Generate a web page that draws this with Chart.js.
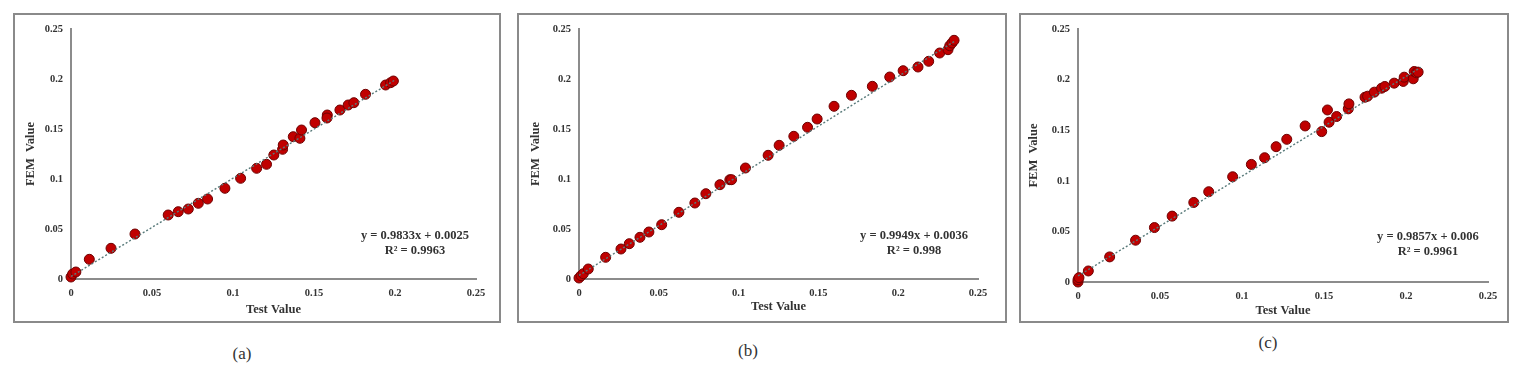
<!DOCTYPE html>
<html><head><meta charset="utf-8">
<script src="https://cdn.jsdelivr.net/npm/chart.js@4.4.1/dist/chart.umd.min.js"></script>
<style>
html,body{margin:0;padding:0;background:#fff;width:1518px;height:375px;overflow:hidden;}
.panel{position:absolute;}
.panel canvas{position:absolute;left:0;top:0;}
.frame{position:absolute;left:0;top:0;right:0;bottom:0;border:2px solid #8a8a8a;box-sizing:border-box;pointer-events:none;}
.cap{position:absolute;font-family:"Liberation Serif",serif;font-size:17px;color:#333;transform:translate(-50%,-50%);white-space:nowrap;}
</style></head><body>
<div class="panel" id="pa" style="left:13px;top:13px;width:488px;height:310px;"><canvas id="ca" width="488" height="310"></canvas><div class="frame"></div></div>
<div class="panel" id="pb" style="left:517px;top:13px;width:490px;height:310px;"><canvas id="cb" width="490" height="310"></canvas><div class="frame"></div></div>
<div class="panel" id="pc" style="left:1019px;top:13px;width:490px;height:310px;"><canvas id="cc" width="490" height="310"></canvas><div class="frame"></div></div>
<div class="cap" style="left:242px;top:354px;">(a)</div>
<div class="cap" style="left:748px;top:351px;">(b)</div>
<div class="cap" style="left:1268px;top:343px;">(c)</div>
<script>
// ---- data ----
const tickLabels = ['0','0.05','0.1','0.15','0.2','0.25'];
const tickValues = [0,0.05,0.1,0.15,0.2,0.25];

const testA = [0,0.001,0.003,0.0113,0.0247,0.0395,0.060,0.0662,0.0724,0.0786,0.0843,0.095,0.1047,0.1146,0.1207,0.1252,0.1306,0.131,0.1372,0.1413,0.1423,0.1506,0.1582,0.158,0.166,0.1711,0.1746,0.1818,0.1942,0.1973,0.199];
const femA  = [0.002,0.005,0.007,0.0197,0.0307,0.045,0.064,0.0673,0.070,0.0757,0.080,0.0907,0.1007,0.1107,0.1147,0.124,0.1297,0.134,0.1423,0.1407,0.149,0.1563,0.164,0.161,0.169,0.174,0.1763,0.1847,0.194,0.1963,0.198];
const trendXA = [0,0.2];
const trendYA = [0.0025,0.199];
const eqA = ['y = 0.9833x + 0.0025','R² = 0.9963'];

const testB = [0,0.0013,0.0027,0.0058,0.0167,0.0263,0.0315,0.0382,0.0438,0.0518,0.0626,0.0726,0.0795,0.0883,0.0945,0.0956,0.1043,0.1185,0.1254,0.1346,0.1432,0.1492,0.1598,0.1707,0.1838,0.1947,0.2031,0.2124,0.2191,0.226,0.2312,0.2323,0.2337,0.235];
const femB  = [0.001,0.0033,0.0053,0.010,0.0217,0.030,0.0353,0.0417,0.047,0.0543,0.0667,0.076,0.0853,0.0943,0.0993,0.0993,0.111,0.1237,0.1337,0.1427,0.1517,0.160,0.1727,0.1837,0.1927,0.202,0.2083,0.212,0.2177,0.226,0.2293,0.2333,0.236,0.2387];
const trendXB = [0,0.236];
const trendYB = [0.0036,0.2384];
const eqB = ['y = 0.9949x + 0.0036','R² = 0.998'];

const testC = [0,0,0.0006,0.0063,0.0193,0.0351,0.0466,0.0574,0.0706,0.0797,0.0943,0.1057,0.1138,0.1208,0.1273,0.1385,0.1486,0.1521,0.1531,0.1577,0.1648,0.1652,0.175,0.1766,0.1807,0.1851,0.1871,0.1928,0.1983,0.1989,0.2044,0.205,0.2064,0.2074];
const femC  = [0,0.0023,0.0043,0.0109,0.0248,0.0413,0.0538,0.0651,0.0786,0.0892,0.104,0.1162,0.1228,0.1337,0.141,0.1542,0.1486,0.170,0.1579,0.1635,0.1711,0.176,0.1826,0.1836,0.1876,0.1915,0.1932,0.1965,0.1982,0.2024,0.2008,0.208,0.2067,0.2074];
const trendXC = [0,0.209];
const trendYC = [0.006,0.212];
const eqC = ['y = 0.9857x + 0.006','R² = 0.9961'];

// ---- drawing ----
const SERIF = '"Liberation Serif", "Times New Roman", serif';
function pts(xs, ys){ return xs.map((v,i)=>({x:v, y:ys[i]})); }

function makeChart(id, cfg){
  const eqPlugin = {
    id:'eq'+id,
    afterDatasetsDraw(chart){
      const {ctx, scales:{x,y}} = chart;
      ctx.save();
      ctx.font = 'bold 12.5px ' + SERIF;
      ctx.fillStyle = '#333';
      ctx.textAlign = 'center';
      ctx.textBaseline = 'middle';
      cfg.eq.forEach((t,i)=>{
        ctx.fillText(t, x.getPixelForValue(cfg.eqPos[0]), y.getPixelForValue(cfg.eqPos[1]) + i*14.5);
      });
      ctx.restore();
    }
  };
  const tickFont = {family: SERIF, size: 10.5, weight:'bold'};
  const titleFont = {family: SERIF, size: 12.5, weight:'bold'};
  return new Chart(document.getElementById(id), {
    type:'scatter',
    data:{datasets:[
      {type:'line', data: pts(cfg.tx, cfg.ty), borderColor:'#587a7a', borderWidth:1.4, borderDash:[2,2], pointRadius:0, fill:false, showLine:true, clip:false},
      {data: pts(cfg.xs, cfg.ys), backgroundColor:'#c00000', borderColor:'#6e0000', borderWidth:1, pointRadius:5, pointHoverRadius:5, clip:false}
    ]},
    options:{
      responsive:false, animation:false, events:[],
      layout:{padding:{left:0, right:cfg.padR, top:16, bottom:0}},
      plugins:{legend:{display:false}, tooltip:{enabled:false}},
      scales:{
        x:{type:'linear', min:0, max:0.25,
          afterBuildTicks(s){ s.ticks = tickValues.map(v=>({value:v})); },
          afterFit(s){ s.height = cfg.xH; },
          grid:{display:false, drawTicks:false},
          border:{display:true, color:'#8c8c8c', width:2},
          ticks:{padding:8, color:'#333', font:tickFont, maxRotation:0, autoSkip:false,
            callback:(v)=>{ const i = tickValues.findIndex(t=>Math.abs(t-v)<1e-9); return i>=0 ? tickLabels[i] : ''; }},
          title:{display:true, text:'Test Value', color:'#333', font:titleFont, padding:{top:0,bottom:cfg.xtPad}}
        },
        y:{type:'linear', min:0, max:0.25,
          afterBuildTicks(s){ s.ticks = tickValues.map(v=>({value:v})); },
          afterFit(s){ s.width = cfg.yW; },
          grid:{display:false, drawTicks:false},
          border:{display:true, color:'#8c8c8c', width:2},
          ticks:{padding:8, color:'#333', font:tickFont, autoSkip:false,
            callback:(v)=>{ const i = tickValues.findIndex(t=>Math.abs(t-v)<1e-9); return i>=0 ? tickLabels[i] : ''; }},
          title:{display:true, text:'FEM  Value', color:'#333', font:titleFont, padding:{top:cfg.ytPad,bottom:0}}
        }
      }
    },
    plugins:[eqPlugin]
  });
}

makeChart('ca', {xs:testA, ys:femA, tx:trendXA, ty:trendYA, eq:eqA, eqPos:[0.2123,0.043], padR:25, xH:44, yW:58, xtPad:6, ytPad:10});
makeChart('cb', {xs:testB, ys:femB, tx:trendXB, ty:trendYB, eq:eqB, eqPos:[0.2099,0.043], padR:29, xH:44, yW:62, xtPad:9, ytPad:11});
makeChart('cc', {xs:testC, ys:femC, tx:trendXC, ty:trendYC, eq:eqC, eqPos:[0.2134,0.0445], padR:21, xH:41, yW:59, xtPad:5, ytPad:7});
</script>
</body></html>
